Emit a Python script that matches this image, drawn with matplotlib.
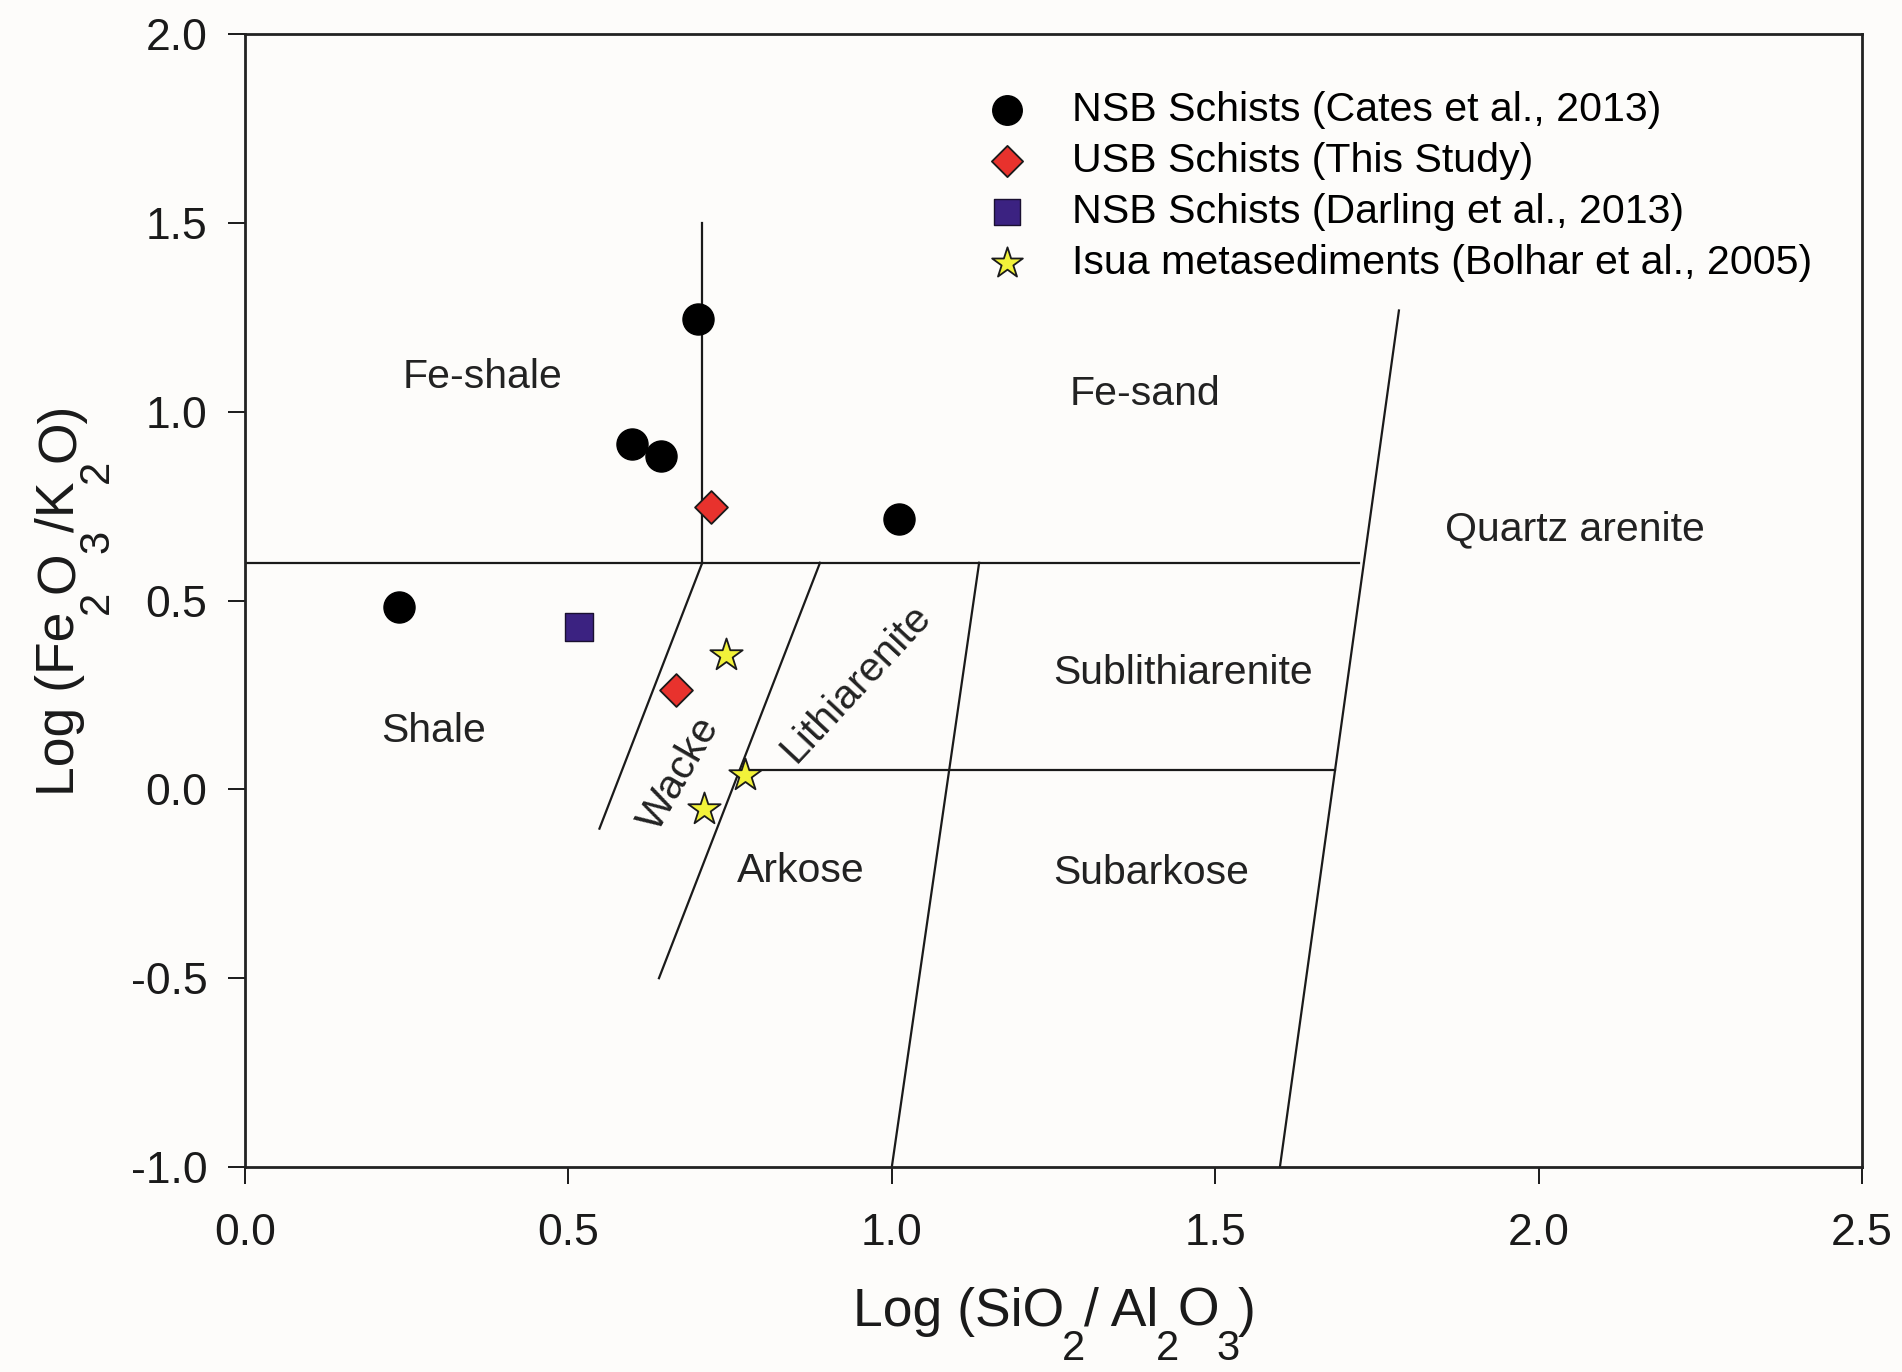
import matplotlib
matplotlib.use("Agg")
import matplotlib.pyplot as plt
from matplotlib.transforms import IdentityTransform

plt.rcParams['font.family'] = ['Liberation Sans', 'DejaVu Sans']

# Sample data: log(SiO2/Al2O3) vs log(Fe2O3/K2O)
cates_x = [0.701, 0.598, 0.643, 1.011, 0.238]
cates_y = [1.245, 0.914, 0.882, 0.715, 0.484]

usb_x = [0.720, 0.666]
usb_y = [0.747, 0.262]

darling_x = [0.516]
darling_y = [0.429]

isua_x = [0.743, 0.773, 0.709]
isua_y = [0.355, 0.037, -0.053]

# Classification field boundaries (Herron, 1988)
boundaries = [
    ([0.707, 0.707], [1.5, 0.6]),
    ([0.0, 1.722], [0.6, 0.6]),
    ([0.707, 0.548], [0.6, -0.104]),
    ([0.889, 0.640], [0.6, -0.5]),
    ([1.135, 1.000], [0.6, -1.0]),
    ([1.784, 1.600], [1.268, -1.0]),
    ([0.765, 1.685], [0.05, 0.05]),
]

field_labels = [
    ("Fe-shale", 0.368, 1.093, 0),
    ("Fe-sand", 1.392, 1.048, 0),
    ("Quartz arenite", 2.056, 0.688, 0),
    ("Sublithiarenite", 1.450, 0.309, 0),
    ("Shale", 0.291, 0.155, 0),
    ("Wacke", 0.672, 0.040, 60),
    ("Lithiarenite", 0.945, 0.281, 47),
    ("Arkose", 0.859, -0.215, 0),
    ("Subarkose", 1.401, -0.221, 0),
]

xticks = [0.0, 0.5, 1.0, 1.5, 2.0, 2.5]
yticks = [-1.0, -0.5, 0.0, 0.5, 1.0, 1.5, 2.0]

# Axis titles as (text, is_subscript) runs
xlabel_parts = [("Log (SiO", False), ("2", True), ("/ Al", False), ("2", True),
                ("O", False), ("3", True), (")", False)]
ylabel_parts = [("Log (Fe", False), ("2", True), ("O", False), ("3", True),
                ("/K", False), ("2", True), ("O)", False)]

LABEL_SIZE = 38.5
SUB_SCALE = 0.78
SUB_DROP = 34.0      # pixels below the main baseline
KERN = 2.0           # pixels removed between neighbouring runs
TEXT_COLOR = '#1a1a1a'

bg = '#fdfcfa'
fig = plt.figure(figsize=(19.02, 13.72), dpi=100, facecolor=bg)
ax = fig.add_axes([0.1288, 0.1494, 0.8502, 0.8258], facecolor=bg)

for xs, ys in boundaries:
    ax.plot(xs, ys, color='#1a1a1a', lw=1.6, zorder=2)

for text, x, y, rot in field_labels:
    ax.text(x, y, text, fontsize=29.5, color='#222222', ha='center', va='center',
            rotation=rot, rotation_mode='anchor', zorder=3)

ax.scatter(cates_x, cates_y, s=500, marker='o', color='black', edgecolors='black',
           linewidths=1.0, zorder=5, label='NSB Schists (Cates et al., 2013)')
ax.scatter(usb_x, usb_y, s=280, marker='D', color='#e8322d', edgecolors='#1a1a1a',
           linewidths=1.3, zorder=5, label='USB Schists (This Study)')
ax.scatter(darling_x, darling_y, s=390, marker='s', color='#3b2281', edgecolors='#1a1030',
           linewidths=1.0, zorder=5, label='NSB Schists (Darling et al., 2013)')
ax.scatter(isua_x, isua_y, s=600, marker='*', color='#f2f23a', edgecolors='#1a1a1a',
           linewidths=1.3, zorder=5, label='Isua metasediments (Bolhar et al., 2005)')

ax.set_xlim(0, 2.5)
ax.set_ylim(-1.0, 2.0)
ax.set_xticks(xticks)
ax.set_yticks(yticks)
ax.set_xticklabels([f"{t:.1f}" for t in xticks])
ax.set_yticklabels([f"{t:.1f}" for t in yticks])
ax.tick_params(axis='both', direction='out', length=12, width=1.4, labelsize=32,
               colors='#1a1a1a')
ax.tick_params(axis='x', pad=21)
ax.tick_params(axis='y', pad=15)
for sp in ax.spines.values():
    sp.set_linewidth(2.0)
    sp.set_color('#222222')

ax.legend(loc='upper left', bbox_to_anchor=(0.513, 0.934), bbox_transform=fig.transFigure,
          frameon=False, fontsize=29.6, markerscale=0.95, handlelength=1.5,
          handletextpad=0.84, labelspacing=0.32, borderpad=0, borderaxespad=0,
          scatterpoints=1)


def run_widths(parts, renderer):
    widths = []
    for s, sub in parts:
        fs = LABEL_SIZE * SUB_SCALE if sub else LABEL_SIZE
        t = fig.text(0, 0, s, fontsize=fs)
        widths.append(t.get_window_extent(renderer).width - KERN)
        t.remove()
    return widths


def draw_chem_label(parts, center, baseline, vertical=False):
    """Draw a formula label with large, low subscripts (pixel coordinates)."""
    renderer = fig.canvas.get_renderer()
    widths = run_widths(parts, renderer)
    pos = center - sum(widths) / 2.0
    for (s, sub), w in zip(parts, widths):
        fs = LABEL_SIZE * SUB_SCALE if sub else LABEL_SIZE
        drop = SUB_DROP if sub else 0.0
        if vertical:
            fig.text(baseline + drop, pos, s, fontsize=fs, color=TEXT_COLOR,
                     rotation=90, rotation_mode='anchor', ha='left', va='baseline',
                     transform=IdentityTransform())
        else:
            fig.text(pos, baseline - drop, s, fontsize=fs, color=TEXT_COLOR,
                     ha='left', va='baseline', transform=IdentityTransform())
        pos += w


W, H = fig.get_size_inches() * fig.dpi
ax_bb = ax.get_position()
x_center = (ax_bb.x0 + ax_bb.x1) / 2 * W
y_center = (ax_bb.y0 + ax_bb.y1) / 2 * H
draw_chem_label(xlabel_parts, x_center, H - 1326)
draw_chem_label(ylabel_parts, y_center, 74, vertical=True)

fig.savefig("out.png", dpi=100, facecolor=bg)
